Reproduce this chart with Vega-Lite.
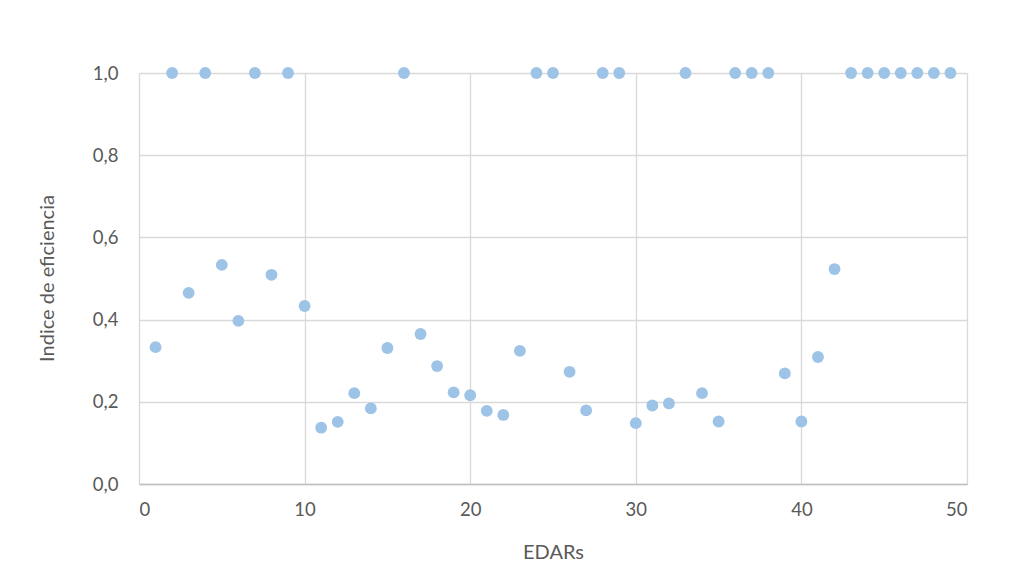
{
  "$schema": "https://vega.github.io/schema/vega-lite/v6.json",
  "autosize": {"type": "none"},
  "padding": {"left": 139, "top": 73, "right": 44, "bottom": 97},
  "width": 828,
  "height": 411,
  "background": "white",
  "config": {
    "font": "Lato",
    "view": {"stroke": null},
    "axis": {"labelFont": "Lato", "titleFont": "Lato", "labelColor": "#595959", "titleColor": "#595959", "labelFontSize": 18.5, "titleFontSize": 20, "titleFontWeight": "normal", "gridColor": "#D9D9D9", "gridWidth": 1.3, "ticks": false}
  },
  "data": {"values": [
    {"EDAR": 1, "indice": 0.333},
    {"EDAR": 2, "indice": 1.0},
    {"EDAR": 3, "indice": 0.465},
    {"EDAR": 4, "indice": 1.0},
    {"EDAR": 5, "indice": 0.533},
    {"EDAR": 6, "indice": 0.397},
    {"EDAR": 7, "indice": 1.0},
    {"EDAR": 8, "indice": 0.509},
    {"EDAR": 9, "indice": 1.0},
    {"EDAR": 10, "indice": 0.433},
    {"EDAR": 11, "indice": 0.137},
    {"EDAR": 12, "indice": 0.151},
    {"EDAR": 13, "indice": 0.221},
    {"EDAR": 14, "indice": 0.184},
    {"EDAR": 15, "indice": 0.331},
    {"EDAR": 16, "indice": 1.0},
    {"EDAR": 17, "indice": 0.365},
    {"EDAR": 18, "indice": 0.287},
    {"EDAR": 19, "indice": 0.223},
    {"EDAR": 20, "indice": 0.216},
    {"EDAR": 21, "indice": 0.178},
    {"EDAR": 22, "indice": 0.168},
    {"EDAR": 23, "indice": 0.324},
    {"EDAR": 24, "indice": 1.0},
    {"EDAR": 25, "indice": 1.0},
    {"EDAR": 26, "indice": 0.273},
    {"EDAR": 27, "indice": 0.179},
    {"EDAR": 28, "indice": 1.0},
    {"EDAR": 29, "indice": 1.0},
    {"EDAR": 30, "indice": 0.148},
    {"EDAR": 31, "indice": 0.191},
    {"EDAR": 32, "indice": 0.196},
    {"EDAR": 33, "indice": 1.0},
    {"EDAR": 34, "indice": 0.221},
    {"EDAR": 35, "indice": 0.152},
    {"EDAR": 36, "indice": 1.0},
    {"EDAR": 37, "indice": 1.0},
    {"EDAR": 38, "indice": 1.0},
    {"EDAR": 39, "indice": 0.269},
    {"EDAR": 40, "indice": 0.152},
    {"EDAR": 41, "indice": 0.309},
    {"EDAR": 42, "indice": 0.523},
    {"EDAR": 43, "indice": 1.0},
    {"EDAR": 44, "indice": 1.0},
    {"EDAR": 45, "indice": 1.0},
    {"EDAR": 46, "indice": 1.0},
    {"EDAR": 47, "indice": 1.0},
    {"EDAR": 48, "indice": 1.0},
    {"EDAR": 49, "indice": 1.0}
  ]},
  "mark": {"type": "circle", "color": "#9DC3E6", "opacity": 1, "size": 140},
  "encoding": {
    "x": {"field": "EDAR", "type": "quantitative", "title": "EDARs",
      "scale": {"domain": [0, 50], "nice": false},
      "axis": {"values": [0, 10, 20, 30, 40, 50], "grid": true, "domainColor": "#BFBFBF", "domainWidth": 1.5, "labelPadding": 16, "titleX": 414, "titleY": 68, "titleBaseline": "middle", "titleAlign": "center"}},
    "y": {"field": "indice", "type": "quantitative", "title": "Indice de eficiencia",
      "scale": {"domain": [0, 1], "nice": false},
      "axis": {"values": [0, 0.2, 0.4, 0.6, 0.8, 1.0], "labelExpr": "replace(format(datum.value, '.1f'), '.', ',')", "domain": false, "labelPadding": 21, "titleX": -92, "titleY": 205, "titleBaseline": "middle", "titleAlign": "center", "titleAngle": -90}}
  }
}
